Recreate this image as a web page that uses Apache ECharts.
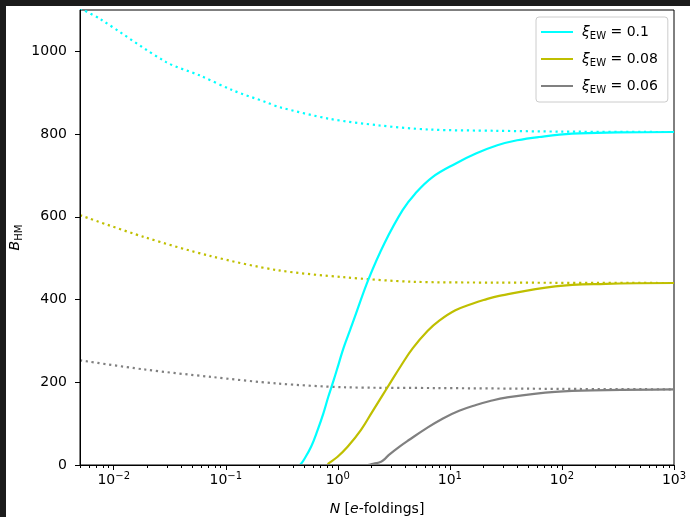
<!DOCTYPE html>
<html><head><meta charset="utf-8">
<script src="https://cdn.jsdelivr.net/npm/echarts@6/dist/echarts.min.js"></script>
<style>
html,body{margin:0;padding:0;background:#1b1b1b;width:690px;height:517px;overflow:hidden}
#c{position:absolute;left:6px;top:6px;width:684px;height:511px;background:#fff}
</style></head><body><div id="c"></div>
<script>
// ---- tick values / labels ----
const xMajorTicks = [0.01, 0.1, 1, 10, 100, 1000];
const xMinorTicks = [0.005, 0.006, 0.007, 0.008, 0.009,
  0.02, 0.03, 0.04, 0.05, 0.06, 0.07, 0.08, 0.09,
  0.2, 0.3, 0.4, 0.5, 0.6, 0.7, 0.8, 0.9,
  2, 3, 4, 5, 6, 7, 8, 9,
  20, 30, 40, 50, 60, 70, 80, 90,
  200, 300, 400, 500, 600, 700, 800, 900];
const yTicks = [0, 200, 400, 600, 800, 1000];
const xiValues = ['0.1', '0.08', '0.06'];
const colors = ['#00ffff', '#bfbf00', '#808080'];

// ---- data: N [e-foldings] and B_HM ----
const cyanSolidN = [0.005, 0.454, 0.47, 0.501, 0.577, 0.661, 0.743, 0.822, 0.918, 1.016, 1.127, 1.285, 1.452, 1.884, 2.594, 3.784, 4.898, 7.0, 11.3, 17.06, 26.5, 39.8, 62.5, 123, 316, 1000];
const cyanSolidB = [0, 0, 3, 14, 44, 85, 125, 165, 205, 244, 284, 326, 366, 450, 535, 616, 656, 696, 729, 753, 773, 785, 793, 801, 804, 805];
const cyanDotN = [0.005, 0.00748, 0.0294, 0.0583, 0.115, 0.229, 0.302, 0.84, 2.34, 6.53, 25.7, 100, 1000];
const cyanDotB = [1104, 1079, 974, 942, 906, 877, 865, 837, 821, 811, 808, 806, 805];

const oliveSolidN = [0.005, 0.80, 0.828, 0.995, 1.222, 1.61, 2.02, 2.51, 2.88, 3.66, 4.65, 6.31, 8.04, 11.2, 15.85, 20, 27.5, 87, 245, 1000];
const oliveSolidB = [0, 0, 4, 20, 44, 85, 128, 169, 195, 240, 282, 324, 349, 374, 390, 399, 409, 432, 438, 440];
const oliveDotN = [0.005, 0.0187, 0.0735, 0.289, 1.135, 4.65, 25.7, 1000];
const oliveDotB = [604, 551, 505, 471, 454, 443, 441, 440];

const graySolidN = [0.005, 1.85, 2.0, 2.43, 2.66, 2.84, 3.53, 4.34, 6.11, 8.59, 12.1, 17.1, 22.4, 31.6, 87, 251, 1000];
const graySolidB = [0, 0, 2, 8, 16, 24, 44, 61, 88, 112, 131, 145, 154, 163, 177, 181, 183];
const grayDotN = [0.005, 0.0187, 0.0735, 0.289, 1.135, 7.9, 100, 1000];
const grayDotB = [253, 231, 213, 197, 188, 186, 184, 183];

const FONT = 'DejaVu Sans';
const pair = (ns, bs) => ns.map((n, i) => [n, bs[i]]);

function fmtLog(v) {
  const e = Math.round(Math.log10(v));
  const s = e < 0 ? '\u2212' + (-e) : String(e);
  return '{b|10}{s|' + s + '}';
}

function solid(name, data, color) {
  return { name, type: 'line', data, symbol: 'none', smooth: 0.4,
    lineStyle: { color, width: 2.2 }, itemStyle: { color }, z: 3 };
}
function dotted(name, data, color) {
  return { name, type: 'line', data, symbol: 'none', smooth: 0.3,
    lineStyle: { color, width: 2.2, type: [2.2, 3.7], cap: 'butt' }, itemStyle: { color }, z: 2 };
}

const chart = echarts.init(document.getElementById('c'));
chart.setOption({
  animation: false,
  backgroundColor: '#ffffff',
  grid: { left: 74, top: 4, right: 16, bottom: 52, containLabel: false, outerBoundsMode: 'none',
    show: true, borderColor: '#000', borderWidth: 1, backgroundColor: 'transparent' },
  legend: {
    data: xiValues, orient: 'vertical', left: 530, top: 11,
    backgroundColor: 'rgba(255,255,255,0.8)', borderColor: '#cccccc', borderWidth: 1, borderRadius: 3,
    padding: [8, 10, 7, 4], itemWidth: 32, itemHeight: 14, itemGap: 11,
    itemStyle: { color: 'rgba(0,0,0,0)', borderWidth: 0, opacity: 0 },
    formatter: v => '{x|ξ}{s|EW}{t| = ' + v + '}',
    textStyle: { fontFamily: FONT, fontSize: 14, color: '#000',
      rich: {
        x: { fontFamily: FONT, fontStyle: 'italic', fontSize: 14, padding: [0, 0, 0, 4], color: '#000' },
        s: { fontFamily: FONT, fontSize: 10, padding: [8, 0, 0, 0], color: '#000' },
        t: { fontFamily: FONT, fontSize: 14, color: '#000' }
      } }
  },
  xAxis: [{
    type: 'log', logBase: 10, min: 0.005, max: 1000, z: 10,
    axisLine: { show: true, onZero: false, lineStyle: { color: '#000', width: 1 } },
    axisTick: { show: true, inside: false, length: 5, customValues: xMajorTicks, lineStyle: { color: '#000', width: 1 } },
    axisLabel: { show: true, customValues: xMajorTicks, formatter: fmtLog, margin: 6, color: '#000',
      rich: {
        b: { fontFamily: FONT, fontSize: 14, color: '#000' },
        s: { fontFamily: FONT, fontSize: 10, padding: [0, 0, 9, 0], color: '#000' }
      } },
    splitLine: { show: false }, minorTick: { show: false },
    name: '{i|N}{t| [}{i|e}{t|-foldings]}', nameLocation: 'middle', nameGap: 37, nameMoveOverlap: false,
    nameTextStyle: { fontFamily: FONT, fontSize: 14, color: '#000',
      rich: { i: { fontFamily: FONT, fontStyle: 'italic', fontSize: 14, color: '#000' },
              t: { fontFamily: FONT, fontSize: 14, color: '#000' } } }
  }, {
    type: 'log', logBase: 10, min: 0.005, max: 1000, position: 'bottom', z: 10,
    axisLine: { show: false, onZero: false },
    axisTick: { show: true, inside: false, length: 3, customValues: xMinorTicks, lineStyle: { color: '#000', width: 1 } },
    axisLabel: { show: false }, splitLine: { show: false }
  }],
  yAxis: {
    type: 'value', min: 0, max: 1100, interval: 200, z: 10,
    axisLine: { show: true, onZero: false, lineStyle: { color: '#000', width: 1 } },
    axisTick: { show: true, inside: false, length: 5, customValues: yTicks, lineStyle: { color: '#000', width: 1 } },
    axisLabel: { customValues: yTicks, margin: 13, fontFamily: FONT, fontSize: 14, color: '#000', formatter: v => String(v) },
    splitLine: { show: false },
    name: '{i|B}{s|HM}', nameLocation: 'middle', nameRotate: 90, nameGap: 56, nameMoveOverlap: false,
    nameTextStyle: { fontFamily: FONT, fontSize: 14, color: '#000',
      rich: { i: { fontFamily: FONT, fontStyle: 'italic', fontSize: 14, color: '#000' },
              s: { fontFamily: FONT, fontSize: 10, padding: [8, 0, 0, 0], color: '#000' } } }
  },
  series: [
    dotted('0.1 dotted', pair(cyanDotN, cyanDotB), colors[0]),
    dotted('0.08 dotted', pair(oliveDotN, oliveDotB), colors[1]),
    dotted('0.06 dotted', pair(grayDotN, grayDotB), colors[2]),
    solid('0.1', pair(cyanSolidN, cyanSolidB), colors[0]),
    solid('0.08', pair(oliveSolidN, oliveSolidB), colors[1]),
    solid('0.06', pair(graySolidN, graySolidB), colors[2])
  ]
});
</script></body></html>
